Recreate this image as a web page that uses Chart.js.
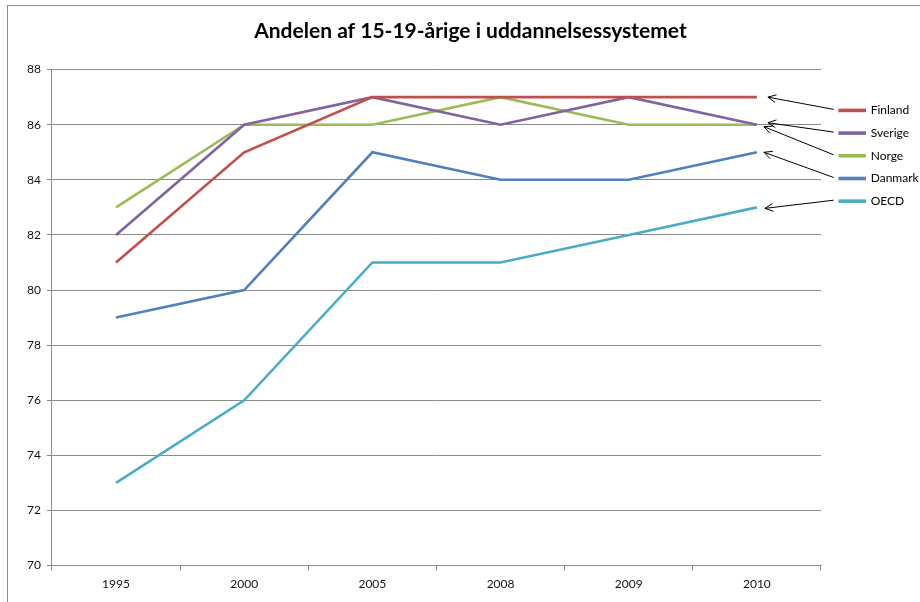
<!DOCTYPE html>
<html>
<head>
<meta charset="utf-8">
<script src="https://cdn.jsdelivr.net/npm/chart.js@4.4.1/dist/chart.umd.min.js"></script>
<style>
  html, body { margin: 0; padding: 0; background: #fff; overflow: hidden; }
  #wrap { position: relative; width: 920px; height: 602px; }
  #frame { position: absolute; left: 7px; top: 5px; right: -10px; bottom: -10px; border: 1px solid #8a8a8a; }
  canvas { position: absolute; left: 0; top: 0; }
</style>
</head>
<body>
<div id="wrap">
  <div id="frame"></div>
  <canvas id="chart" width="920" height="602"></canvas>
</div>
<script>
// data
const years = ['1995', '2000', '2005', '2008', '2009', '2010'];
const finland = [81, 85, 87, 87, 87, 87];
const sverige = [82, 86, 87, 86, 87, 86];
const norge   = [83, 86, 86, 87, 86, 86];
const danmark = [79, 80, 85, 84, 84, 85];
const oecd    = [73, 76, 81, 81, 82, 83];

const serier = [
  { label: 'Finland', data: finland, color: '#C0504D' },
  { label: 'Sverige', data: sverige, color: '#8064A2' },
  { label: 'Norge',   data: norge,   color: '#9BBB59' },
  { label: 'Danmark', data: danmark, color: '#4F81BD' },
  { label: 'OECD',    data: oecd,    color: '#4BACC6' }
];

const font = 'Lato, "Liberation Sans", sans-serif';
const grid = '#8a8a8a';

// pile fra legenden til sidste punkt
const tipOffset = [[11, 0], [11, -2], [7, 2], [7, 0], [8, 1]];
const pile = {
  id: 'pile',
  afterDraw(c) {
    const ctx = c.ctx, x = c.scales.x, y = c.scales.y;
    const boxes = c.legend.legendHitBoxes;
    ctx.save();
    ctx.strokeStyle = '#000';
    ctx.lineWidth = 1;
    serier.forEach((s, i) => {
      const hb = boxes[i];
      const last = s.data.length - 1;
      const tx = x.getPixelForValue(last) + tipOffset[i][0];
      const ty = y.getPixelForValue(s.data[last]) + tipOffset[i][1];
      const fx = hb.left - 6, fy = hb.top + hb.height / 2 - 1;
      const a = Math.atan2(ty - fy, tx - fx);
      ctx.beginPath();
      ctx.moveTo(fx, fy); ctx.lineTo(tx, ty);
      ctx.moveTo(tx - 9 * Math.cos(a - 0.45), ty - 9 * Math.sin(a - 0.45));
      ctx.lineTo(tx, ty);
      ctx.lineTo(tx - 9 * Math.cos(a + 0.45), ty - 9 * Math.sin(a + 0.45));
      ctx.stroke();
    });
    ctx.restore();
  }
};

new Chart(document.getElementById('chart'), {
  type: 'line',
  data: {
    labels: years,
    datasets: serier.map(s => ({
      label: s.label, data: s.data,
      borderColor: s.color, backgroundColor: s.color,
      borderWidth: 2.6, pointRadius: 0, tension: 0, fill: false
    }))
  },
  options: {
    responsive: false,
    animation: false,
    layout: { padding: { left: 21, right: 0, top: 0, bottom: 5 } },
    plugins: {
      title: {
        display: true,
        text: 'Andelen af 15-19-årige i uddannelsessystemet',
        color: '#000',
        font: { family: font, size: 21, weight: 'bold' },
        padding: { top: 18.2, bottom: 26.2 }
      },
      legend: {
        position: 'right',
        align: 'start',
        maxWidth: 91,
        title: { display: true, text: '', font: { size: 12 }, padding: { top: 79.3, bottom: 0 } },
        labels: {
          boxWidth: 25, boxHeight: 1, padding: 10.7,
          color: '#000',
          font: { family: font, size: 12 }
        }
      },
      tooltip: { enabled: false }
    },
    scales: {
      x: {
        offset: true,
        grid: { drawOnChartArea: false, offset: true, tickLength: 5, color: grid },
        border: { color: grid },
        ticks: { padding: 6, color: '#111', font: { family: font, size: 12 } }
      },
      y: {
        min: 70, max: 88,
        ticks: { stepSize: 2, padding: 6, color: '#111', font: { family: font, size: 12 } },
        grid: { color: grid, tickLength: 5 },
        border: { color: grid }
      },
      // tom plads mellem plotfladen og legenden
      spacer: {
        position: 'right',
        ticks: { display: false },
        grid: { display: false },
        border: { display: false },
        afterFit: s => { s.width = 8; }
      }
    }
  },
  plugins: [pile]
});
</script>
</body>
</html>
